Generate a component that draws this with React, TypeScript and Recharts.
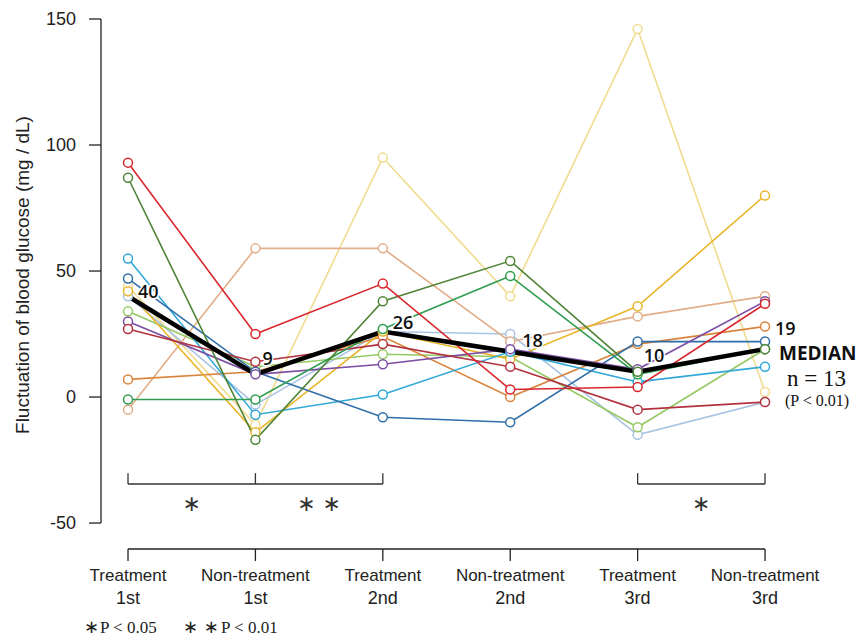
import React from 'react';
import { LineChart, Line, XAxis, YAxis, ReferenceLine, ReferenceDot, LabelList } from 'recharts';

// ---- data ----
const tickLine1 = ['Treatment', 'Non-treatment', 'Treatment', 'Non-treatment', 'Treatment', 'Non-treatment'];
const tickLine2 = ['1st', '1st', '2nd', '2nd', '3rd', '3rd'];
const yTicks = [-50, 0, 50, 100, 150];

const red = [93, 25, 45, 3, 4, 37];
const olive = [87, -17, 38, 54, 10, 19];
const cyan = [55, -7, 1, 18, 6, 12];
const steel = [47, 10, -8, -10, 22, 22];
const gold = [42, -14, 26, 15, 36, 80];
const lightYellow = [44, -11, 95, 40, 146, 2];
const lightGreen = [34, 12, 17, 16, -12, 19];
const purple = [30, 9, 13, 19, 11, 38];
const crimson = [27, 14, 21, 12, -5, -2];
const orange = [7, 10, 24, 0, 21, 28];
const green = [-1, -1, 27, 48, 9, 19];
const tan = [-5, 59, 59, 22, 32, 40];
const paleBlue = [40, -3, 26, 25, -15, -2];
const median = [40, 9, 26, 18, 10, 19];

const series = [
  { key: 'lightYellow', color: '#f0dc8f', values: lightYellow },
  { key: 'paleBlue', color: '#a9c3e2', values: paleBlue },
  { key: 'tan', color: '#e2ad89', values: tan },
  { key: 'lightGreen', color: '#94c964', values: lightGreen },
  { key: 'orange', color: '#d9843c', values: orange },
  { key: 'gold', color: '#e9b52c', values: gold },
  { key: 'cyan', color: '#31a8d8', values: cyan },
  { key: 'steel', color: '#2f6ea8', values: steel },
  { key: 'purple', color: '#7b4ea3', values: purple },
  { key: 'crimson', color: '#b3313f', values: crimson },
  { key: 'green', color: '#2f9d50', values: green },
  { key: 'olive', color: '#4f8436', values: olive },
  { key: 'red', color: '#d9262c', values: red },
];

const data = tickLine1.map((_, i) => {
  const row: any = { idx: i, median: median[i] };
  series.forEach((s) => (row[s.key] = s.values[i]));
  return row;
});

const SANS = '"Liberation Sans", Arial, sans-serif';
const SERIF = '"Liberation Serif", "Times New Roman", serif';

const XTick = (props: any) => {
  const { x, y, payload } = props;
  const i = payload.value;
  return (
    <g>
      <text x={x} y={y + 18} textAnchor="middle" fontSize={17} fontFamily={SANS} fill="#222">{tickLine1[i]}</text>
      <text x={x} y={y + 41} textAnchor="middle" fontSize={18} fontFamily={SANS} fill="#222">{tickLine2[i]}</text>
    </g>
  );
};

// label placement (style only): offsets of each median label from its point
const labelDx = [10, 7, 10, 12, 6, 10];
const labelDy = [-5, -16, -9, -11, -16, -21];

const MedianLabel = (p: any) => {
  const i = p.index ?? 0;
  return (
    <text
      x={p.x + (labelDx[i] ?? 9)}
      y={p.y + (labelDy[i] ?? -12)}
      dy="0.36em"
      fontSize={18}
      fontWeight={600}
      fontFamily='"Open Sans", sans-serif'
      fill="#111"
      stroke="#fff"
      strokeWidth={3}
      paintOrder="stroke"
    >
      {p.value}
    </text>
  );
};

const axisStroke = '#222';
const brY = -34.5;
const brTop = -30.2;
const yMin = -60.3;
const xMin = -0.212;

export default function App() {
  return (
    <div style={{ position: 'absolute', left: 0, top: 0, width: 860, height: 640, background: '#fff' }}>
      <LineChart width={860} height={640} data={data} margin={{ top: 19, right: 70, bottom: 31, left: 0 }}>
        <XAxis
          type="number"
          dataKey="idx"
          domain={[xMin, 5.196]}
          ticks={[0, 1, 2, 3, 4, 5]}
          allowDataOverflow
          axisLine={false}
          tickSize={12}
          tickLine={{ stroke: axisStroke, strokeWidth: 1.3 }}
          tick={<XTick />}
          height={60}
          interval={0}
        />
        <YAxis
          type="number"
          domain={[yMin, 150]}
          ticks={yTicks}
          allowDataOverflow
          axisLine={false}
          tickSize={12}
          tickMargin={13}
          width={101}
          tickLine={{ stroke: axisStroke, strokeWidth: 1.3 }}
          tick={{ fontSize: 18, fill: '#222', fontFamily: SANS }}
        />
        <ReferenceLine segment={[{ x: xMin, y: -50 }, { x: xMin, y: 150 }]} stroke={axisStroke} strokeWidth={1.3} ifOverflow="visible" />
        <ReferenceLine segment={[{ x: 0, y: yMin }, { x: 5, y: yMin }]} stroke={axisStroke} strokeWidth={1.3} ifOverflow="visible" />

        <ReferenceLine segment={[{ x: 0, y: brY }, { x: 2, y: brY }]} stroke="#333" strokeWidth={1.3} ifOverflow="visible" />
        <ReferenceLine segment={[{ x: 0, y: brY }, { x: 0, y: brTop }]} stroke="#333" strokeWidth={1.3} ifOverflow="visible" />
        <ReferenceLine segment={[{ x: 1, y: brY }, { x: 1, y: brTop }]} stroke="#333" strokeWidth={1.3} ifOverflow="visible" />
        <ReferenceLine segment={[{ x: 2, y: brY }, { x: 2, y: brTop }]} stroke="#333" strokeWidth={1.3} ifOverflow="visible" />
        <ReferenceLine segment={[{ x: 4, y: brY }, { x: 5, y: brY }]} stroke="#333" strokeWidth={1.3} ifOverflow="visible" />
        <ReferenceLine segment={[{ x: 4, y: brY }, { x: 4, y: brTop }]} stroke="#333" strokeWidth={1.3} ifOverflow="visible" />
        <ReferenceLine segment={[{ x: 5, y: brY }, { x: 5, y: brTop }]} stroke="#333" strokeWidth={1.3} ifOverflow="visible" />

        <ReferenceDot x={0.5} y={-42} r={1} fill="none" stroke="none" ifOverflow="visible"
          label={{ value: '∗', position: 'center', fontSize: 22, fill: '#333', fontFamily: '"DejaVu Sans", sans-serif' }} />
        <ReferenceDot x={1.5} y={-42} r={1} fill="none" stroke="none" ifOverflow="visible"
          label={{ value: '∗  ∗', position: 'center', fontSize: 22, fill: '#333', fontFamily: '"DejaVu Sans", sans-serif' }} />
        <ReferenceDot x={4.5} y={-42} r={1} fill="none" stroke="none" ifOverflow="visible"
          label={{ value: '∗', position: 'center', fontSize: 22, fill: '#333', fontFamily: '"DejaVu Sans", sans-serif' }} />

        {series.map((s) => (
          <Line
            key={s.key}
            type="linear"
            dataKey={s.key}
            stroke={s.color}
            strokeWidth={1.6}
            dot={{ r: 4.5, stroke: s.color, strokeWidth: 1.5, fill: '#fff' }}
            activeDot={false}
            isAnimationActive={false}
          />
        ))}
        <Line type="linear" dataKey="median" stroke="#000" strokeWidth={4.5} dot={false} activeDot={false} isAnimationActive={false}>
          <LabelList dataKey="median" content={<MedianLabel />} />
        </Line>

        <text transform="translate(29,275) rotate(-90)" textAnchor="middle" fontSize={19} fontFamily={SANS} fill="#222">
          Fluctuation of blood glucose (mg / dL)
        </text>
        <text x={779} y={360} fontSize={19} fontWeight={700} fontFamily='"Open Sans", sans-serif' fill="#111">MEDIAN</text>
        <text x={787} y={386} fontSize={23} fontFamily={SERIF} fill="#111">n = 13</text>
        <text x={785} y={406} fontSize={16} fontFamily={SERIF} fill="#111">(P &lt; 0.01)</text>
        <text x={84} y={633} fontSize={18} fontFamily='"DejaVu Sans", sans-serif' fill="#222">∗</text>
        <text x={100} y={633} fontSize={17} fontFamily={SERIF} fill="#222">P &lt; 0.05</text>
        <text x={183} y={633} fontSize={18} fontFamily='"DejaVu Sans", sans-serif' fill="#222">∗ ∗</text>
        <text x={221} y={633} fontSize={17} fontFamily={SERIF} fill="#222">P &lt; 0.01</text>
      </LineChart>
    </div>
  );
}
